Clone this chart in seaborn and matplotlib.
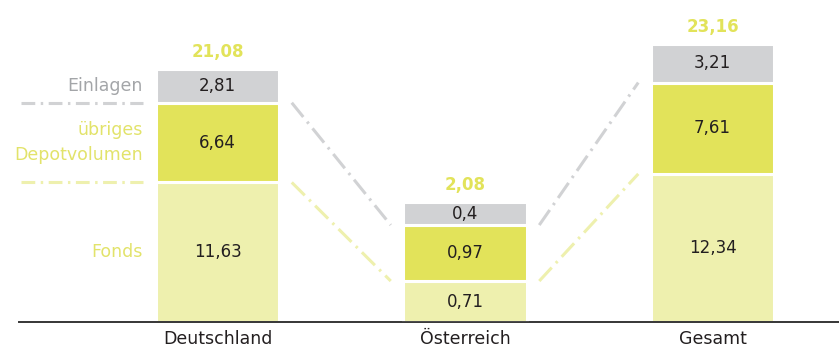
import matplotlib
matplotlib.use("Agg")
import matplotlib.pyplot as plt
import matplotlib.transforms as mtransforms
import seaborn as sns
import numpy as np

# ---- data ----
categories = ["Deutschland", "Österreich", "Gesamt"]
fonds = [11.63, 0.71, 12.34]
depot = [6.64, 0.97, 7.61]
einlagen = [2.81, 0.4, 3.21]
totals = [21.08, 2.08, 23.16]
series_names = ["Fonds", "übriges\nDepotvolumen", "Einlagen"]

# ---- style ----
sns.set_theme(style="white")
plt.rcParams["font.family"] = ["Liberation Sans Narrow", "DejaVu Sans"]

C_FONDS = "#EEF0AE"
C_DEPOT = "#E2E35A"
C_EINL = "#D1D2D4"
C_TOTAL = "#E2E35A"
C_TXT = "#231F20"
C_LBL_GRAY = "#A3A5A8"
C_LBL_YEL = "#E2E36A"

fig = plt.figure(figsize=(8.39, 3.51), dpi=100)
ax = fig.add_axes([19 / 839, 29 / 351, 820 / 839, 322 / 351])
ax2 = ax.twinx()  # separate (enlarged) scale for the small Österreich bar

main_idx = [0, 2]
small_idx = [1]
segments = [fonds, depot, einlagen]
colors = [C_FONDS, C_DEPOT, C_EINL]
BW = 0.5
EDGE_LW = 2.2

def stacked(axis, idx):
    bottoms = np.zeros(len(idx))
    for seg, col in zip(segments, colors):
        vals = [seg[i] for i in idx]
        sns.barplot(x=[categories[i] for i in idx], y=vals, order=categories,
                    bottom=bottoms.copy(), color=col, width=BW, errorbar=None,
                    edgecolor="white", linewidth=EDGE_LW, saturation=1, ax=axis)
        bottoms += np.array(vals)

stacked(ax, main_idx)
stacked(ax2, small_idx)

Y_MAX_MAIN = 26.83
Y_MAX_SMALL = 5.58
ax.set_ylim(0, Y_MAX_MAIN)
ax2.set_ylim(0, Y_MAX_SMALL)
ax.set_xlim(-0.802, 2.511)

for a in (ax, ax2):
    a.set_xlabel("")
    a.set_ylabel("")
    a.set_yticks([])
    for s in ("top", "right", "left"):
        a.spines[s].set_visible(False)
    a.spines["bottom"].set_color("#3A3A3A")
    a.spines["bottom"].set_linewidth(1.3)
    a.tick_params(axis="x", length=0, pad=6, labelsize=12.5, colors=C_TXT)
ax2.set_xticks([])
ax.set_xticks(range(len(categories)))
ax.set_xticklabels(categories)

def fmt(v):
    return f"{v:g}".replace(".", ",")

# segment and total labels
for i in range(len(categories)):
    a = ax2 if i in small_idx else ax
    base = 0.0
    for seg in segments:
        a.text(i, base + seg[i] / 2, fmt(seg[i]), ha="center", va="center",
               fontsize=12, color=C_TXT)
        base += seg[i]
    a.annotate(fmt(totals[i]), (i, base), xytext=(0, 6), textcoords="offset points",
               ha="center", va="bottom", fontsize=12, fontweight="bold", color=C_TOTAL)

# left-side series labels aligned to the Deutschland bar
blend = mtransforms.blended_transform_factory(ax.transAxes, ax.transData)
d = 0
b1 = fonds[d]
b2 = fonds[d] + depot[d]
b3 = b2 + einlagen[d]
lbl_x = (143 - 19) / 820
ax.text(lbl_x, b1 / 2, "Fonds", transform=blend, ha="right", va="center",
        fontsize=12.5, color=C_LBL_YEL)
ax.text(lbl_x, (b1 + b2) / 2, series_names[1], transform=blend, ha="right",
        va="center", fontsize=12.5, color=C_LBL_YEL, linespacing=1.5)
ax.text(lbl_x, (b2 + b3) / 2, "Einlagen", transform=blend, ha="right", va="center",
        fontsize=12.5, color=C_LBL_GRAY)
hstyle = (0, (4.5, 1.8, 0.8, 1.8))
ax.plot([0.003, lbl_x], [b2, b2], transform=blend, color=C_EINL, lw=2.2,
        ls=hstyle, solid_capstyle="butt", dash_capstyle="butt")
ax.plot([0.003, lbl_x], [b1, b1], transform=blend, color=C_FONDS, lw=2.2,
        ls=hstyle, solid_capstyle="butt", dash_capstyle="butt")

# connector lines between bars (cumulative boundaries)
fig.canvas.draw()
def to_main(i, y):
    a = ax2 if i in small_idx else ax
    disp = a.transData.transform((i, y))
    return ax.transData.inverted().transform(disp)

GAP = 0.05
dstyle = (0, (6, 2, 0.8, 2))
bounds = [(lambda i: fonds[i], C_FONDS), (lambda i: fonds[i] + depot[i], C_EINL)]
for bf, col in bounds:
    for i0, i1 in [(0, 1), (1, 2)]:
        p0 = to_main(i0, bf(i0)); p1 = to_main(i1, bf(i1))
        x0 = i0 + BW / 2 + GAP
        x1 = i1 - BW / 2 - GAP
        ax.plot([x0, x1], [p0[1], p1[1]], color=col, lw=2.2, ls=dstyle,
                dash_capstyle="butt", zorder=0.5)

ax.set_xlim(-0.802, 2.511)
fig.savefig("out.png", dpi=100)
